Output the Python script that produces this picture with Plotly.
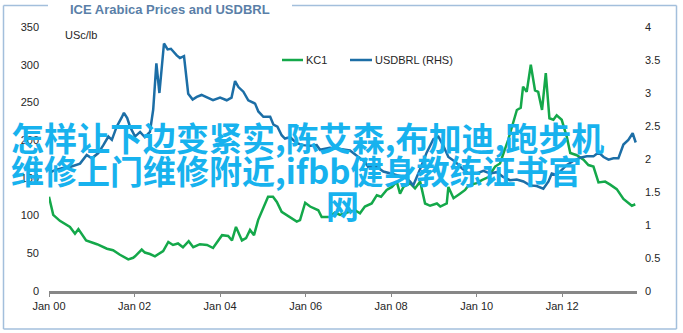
import plotly.graph_objects as go

# ---------------- data ----------------
kc1_dates = [
    "2000-01-01", "2000-02-06", "2000-04-03", "2000-06-28", "2000-08-10", "2000-09-08", "2000-11-13",
    "2001-02-14", "2001-05-10", "2001-07-01", "2001-08-29", "2001-11-08", "2001-12-20",
    "2002-01-05", "2002-03-03", "2002-03-30", "2002-05-12", "2002-06-24", "2002-09-02", "2002-10-16", "2002-11-25",
    "2003-01-07", "2003-02-18", "2003-04-08", "2003-05-17", "2003-07-13", "2003-09-12", "2003-11-02",
    "2004-01-18", "2004-03-10", "2004-04-12", "2004-05-16", "2004-07-06", "2004-08-10", "2004-09-13",
    "2004-10-17", "2004-11-21", "2004-12-22",
    "2005-02-14", "2005-03-28", "2005-04-30", "2005-06-10", "2005-08-21", "2005-10-17", "2005-11-14", "2005-12-28",
    "2006-02-08", "2006-04-19", "2006-05-18", "2006-07-27", "2006-09-08", "2006-10-22", "2006-12-19",
    "2007-02-27", "2007-04-10", "2007-05-22", "2007-07-19", "2007-09-01", "2007-10-07", "2007-11-24",
    "2008-01-08", "2008-02-18", "2008-03-17", "2008-04-15", "2008-06-10", "2008-07-23", "2008-09-05",
    "2008-10-17", "2008-11-29",
    "2009-01-26", "2009-02-24", "2009-04-20", "2009-05-04", "2009-06-17", "2009-08-11", "2009-09-24", "2009-10-22",
    "2010-01-01", "2010-02-14", "2010-04-11", "2010-06-07", "2010-07-19", "2010-09-26", "2010-11-07", "2010-12-10",
    "2011-01-12", "2011-02-01", "2011-03-04", "2011-04-08", "2011-05-14", "2011-06-10", "2011-07-13",
    "2011-08-14", "2011-09-14", "2011-10-18", "2011-11-15", "2011-12-28",
    "2012-02-10", "2012-03-10", "2012-05-05", "2012-07-01", "2012-08-12", "2012-09-24", "2012-11-06",
    "2013-01-02", "2013-02-14", "2013-04-11", "2013-06-07", "2013-07-19", "2013-08-18", "2013-09-16",
]
kc1_values = [
    125, 101, 93, 85, 76, 82, 67,
    62, 56, 54, 48, 42, 44,
    46, 55, 51, 49, 46, 53, 65, 61,
    63, 58, 66, 58, 62, 61, 57,
    74, 73, 67, 85, 67, 70, 81,
    74, 94, 105,
    125, 125, 118, 105, 98, 92, 94, 117,
    112, 107, 98, 98, 104, 101, 104,
    107, 103, 112, 116, 127, 125, 134,
    138, 145, 129, 138, 143, 136, 145,
    116, 113,
    116, 112, 116, 138, 123, 129, 134, 140,
    143, 147, 151, 165, 169, 200, 222, 240,
    243, 271, 264, 300, 266, 264, 240,
    289, 229, 227, 233, 227,
    204, 183, 180, 174, 167, 165, 144,
    145, 141, 135, 122, 117, 113, 115,
]

brl_dates = [
    "2000-01-01", "2000-02-21", "2000-04-19", "2000-06-28", "2000-09-22", "2000-11-18",
    "2001-01-01", "2001-02-25", "2001-04-09", "2001-05-22", "2001-06-21", "2001-08-01", "2001-09-13",
    "2001-10-02", "2001-10-30", "2001-11-23",
    "2002-01-05", "2002-02-17", "2002-03-30", "2002-05-12", "2002-06-09", "2002-07-06", "2002-08-01",
    "2002-09-09", "2002-10-10", "2002-11-07", "2002-12-27",
    "2003-01-23", "2003-02-27", "2003-04-04", "2003-05-12", "2003-06-16", "2003-07-27", "2003-09-20", "2003-11-02",
    "2004-01-01", "2004-02-27", "2004-04-08", "2004-05-08", "2004-06-06", "2004-07-18", "2004-08-29",
    "2004-10-26", "2004-11-23",
    "2005-01-05", "2005-03-04", "2005-04-01", "2005-05-05", "2005-06-10", "2005-07-08", "2005-08-21",
    "2005-10-17", "2005-12-12",
    "2006-02-08", "2006-04-05", "2006-05-04", "2006-07-27", "2006-10-22",
    "2007-01-15", "2007-04-10", "2007-05-22", "2007-06-19", "2007-09-01", "2007-10-27", "2007-12-23",
    "2008-03-03", "2008-04-29", "2008-06-10", "2008-07-08", "2008-09-05", "2008-10-31", "2008-12-27",
    "2009-02-08", "2009-03-22", "2009-05-04", "2009-07-01", "2009-08-27", "2009-10-22",
    "2010-01-01", "2010-02-27", "2010-04-25", "2010-06-20", "2010-08-14", "2010-10-12", "2010-12-09",
    "2011-02-04", "2011-04-01", "2011-05-28", "2011-07-24", "2011-09-06", "2011-10-04", "2011-11-15", "2011-12-28",
    "2012-02-10", "2012-04-05", "2012-06-02", "2012-07-29", "2012-09-24", "2012-11-06", "2012-12-20",
    "2013-01-31", "2013-03-14", "2013-04-25", "2013-06-07", "2013-07-19", "2013-08-25", "2013-09-20",
]
brl_values = [
    1.79, 1.83, 1.86, 1.88, 1.93, 2.06,
    2.01, 2.09, 2.21, 2.34, 2.29, 2.49, 2.63,
    2.70, 2.62, 2.49,
    2.34, 2.41, 2.33, 2.41, 2.75, 3.45, 3.00,
    3.75, 3.66, 3.67, 3.57,
    3.53, 3.56, 2.99, 2.90, 2.94, 2.97, 2.92, 2.89,
    2.93, 2.89, 2.93, 3.18, 3.09, 3.02, 2.89,
    2.84, 2.72,
    2.64, 2.64, 2.52, 2.49, 2.36, 2.31, 2.33,
    2.24, 2.21,
    2.20, 2.21, 2.14, 2.17, 2.15,
    2.13, 2.01, 1.96, 1.88, 1.88, 1.81, 1.78,
    1.75, 1.72, 1.66, 1.60, 1.85, 2.10, 2.30,
    2.34, 2.20, 2.03, 1.96, 1.86, 1.78,
    1.78, 1.82, 1.78, 1.80, 1.73, 1.68, 1.69,
    1.66, 1.60, 1.59, 1.55, 1.66, 1.78, 1.76, 1.84,
    1.91, 1.97, 2.02, 2.04, 2.04, 2.10, 2.03,
    1.99, 2.01, 2.01, 2.22, 2.29, 2.39, 2.25,
]

left_ticks = [0, 50, 100, 150, 200, 250, 300, 350]
right_ticks = [0, 0.5, 1, 1.5, 2, 2.5, 3, 3.5, 4]
right_tick_labels = ["0", "0.5", "1", "1.5", "2", "2.5", "3", "3.5", "4"]
x_ticks = ["2000-01-01", "2002-01-01", "2004-01-01", "2006-01-01", "2008-01-01", "2010-01-01", "2012-01-01"]
x_tick_labels = ["Jan 00", "Jan 02", "Jan 04", "Jan 06", "Jan 08", "Jan 10", "Jan 12"]

title_text = "ICE Arabica Prices and USDBRL"
unit_text = "USc/lb"
name_kc1 = "KC1"
name_brl = "USDBRL (RHS)"
overlay_lines = ["怎样让下边变紧实,陈艾森,布加迪,跑步机", "维修上门维修附近,ifbb健身教练证书官", "网"]

# ---------------- layout helpers ----------------
W, H = 683, 333
L, R, T, B = 49, 637, 27, 291


def px(x):
    return (x - L) / (R - L)


def py(y):
    return (B - y) / (B - T)


GREEN = "#14a84a"
BLUE = "#1c6ea6"
FRAME = "#a3bfdc"
TXT = "#262626"
FONT = "Liberation Sans, Arial, sans-serif"

fig = go.Figure()
fig.add_trace(go.Scatter(x=kc1_dates, y=kc1_values, name=name_kc1, mode="lines",
                         line=dict(color=GREEN, width=2.5), yaxis="y"))
fig.add_trace(go.Scatter(x=brl_dates, y=brl_values, name=name_brl, mode="lines",
                         line=dict(color=BLUE, width=2.5), yaxis="y2"))

shapes = []
# outer frame (with gap for title)
for (x0, y0, x1, y1) in [(3.5, 5.5, 3.5, 329), (3.5, 329, 676.5, 329), (676.5, 5.5, 676.5, 329),
                         (3.5, 5.5, 48, 5.5), (292, 5.5, 676.5, 5.5)]:
    shapes.append(dict(type="line", xref="paper", yref="paper", x0=px(x0), y0=py(y0), x1=px(x1), y1=py(y1),
                       line=dict(color=FRAME, width=1.5), layer="above"))
# legend samples
shapes.append(dict(type="line", xref="paper", yref="paper", x0=px(282), y0=py(60), x1=px(303), y1=py(60),
                   line=dict(color=GREEN, width=2.5)))
shapes.append(dict(type="line", xref="paper", yref="paper", x0=px(350), y0=py(60), x1=px(372), y1=py(60),
                   line=dict(color=BLUE, width=2.5)))

annotations = [
    dict(text="<b>" + title_text + "</b>", x=px(170), y=py(10), xref="paper", yref="paper",
         xanchor="center", yanchor="middle", showarrow=False,
         font=dict(family=FONT, size=13, color="#5a7fa8")),
    dict(text=unit_text, x=px(63), y=py(35), xref="paper", yref="paper",
         xanchor="left", yanchor="middle", showarrow=False, font=dict(family=FONT, size=11, color=TXT)),
    dict(text=name_kc1, x=px(304), y=py(60), xref="paper", yref="paper",
         xanchor="left", yanchor="middle", showarrow=False, font=dict(family=FONT, size=11, color=TXT)),
    dict(text=name_brl, x=px(373), y=py(60), xref="paper", yref="paper",
         xanchor="left", yanchor="middle", showarrow=False, font=dict(family=FONT, size=11, color=TXT)),
]
cjk_font = dict(family="Noto Sans CJK SC", size=33, color="#17b2ee", weight="bold")
annotations.append(dict(text=overlay_lines[0], x=px(9), y=py(137), xref="paper", yref="paper",
                        xanchor="left", yanchor="middle", showarrow=False, font=cjk_font))
annotations.append(dict(text=overlay_lines[1], x=px(9), y=py(170), xref="paper", yref="paper",
                        xanchor="left", yanchor="middle", showarrow=False, font=cjk_font))
annotations.append(dict(text=overlay_lines[2], x=px(342), y=py(205), xref="paper", yref="paper",
                        xanchor="center", yanchor="middle", showarrow=False, font=cjk_font))

fig.update_layout(
    width=W, height=H,
    margin=dict(l=L, r=W - R, t=T, b=H - B, pad=0),
    paper_bgcolor="white", plot_bgcolor="white",
    showlegend=False,
    font=dict(family=FONT, size=11, color=TXT),
    xaxis=dict(type="date", range=["2000-01-01", "2013-10-01"], tickvals=x_ticks, ticktext=x_tick_labels,
               showgrid=False, zeroline=False, showline=True, linecolor="#878787", linewidth=3,
               ticks="outside", ticklen=3, tickcolor="#878787", tickwidth=1,
               tickfont=dict(family=FONT, size=11, color=TXT)),
    yaxis=dict(range=[0, 350], tickvals=left_ticks, showgrid=False, zeroline=False, showline=False,
               ticks="", ticklabelstandoff=9, tickfont=dict(family=FONT, size=11, color=TXT)),
    yaxis2=dict(range=[0, 4], tickvals=right_ticks, ticktext=right_tick_labels, overlaying="y", side="right",
                showgrid=False, zeroline=False, showline=False, ticks="", ticklabelstandoff=7,
                tickfont=dict(family=FONT, size=11, color=TXT)),
    shapes=shapes,
    annotations=annotations,
)

fig.write_html("out.html")
